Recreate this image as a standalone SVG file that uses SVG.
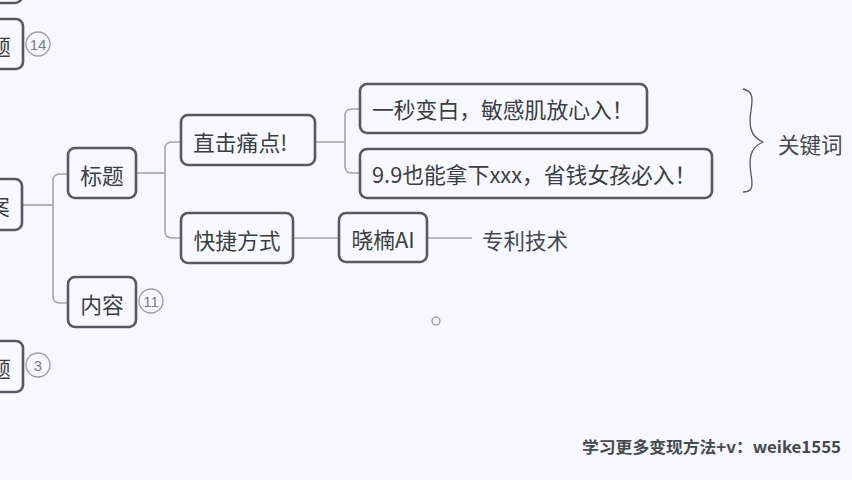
<svg xmlns="http://www.w3.org/2000/svg" width="852" height="480" viewBox="0 0 852 480">
  <style>
    .node rect { fill: #f7f9fe; stroke: #555a60; stroke-width: 2.6; }
    .label { font-family: "Noto Sans CJK SC", "Noto Sans", sans-serif; font-size: 21.8px; fill: #3a3d42; dominant-baseline: central; }
    .plain { font-family: "Noto Sans CJK SC", "Noto Sans", sans-serif; font-size: 21.5px; fill: #45484d; dominant-baseline: central; }
    .badge circle { fill: none; stroke: #9a9da2; stroke-width: 1.3; }
    .badge text { font-family: "Liberation Sans", "Noto Sans", sans-serif; font-size: 15px; fill: #7a7d82; text-anchor: middle; dominant-baseline: central; }
    .conn { fill: none; stroke: #a3a6ab; stroke-width: 1.6; }
  </style>
  <rect x="0" y="0" width="852" height="480" fill="#f6f8fe"/>

  <!-- connectors -->
  <g id="connectors" class="conn">
    <path d="M22,205 H53"/>
    <path d="M68,174 H60 Q53,174 53,181 V296 Q53,303 60,303 H68"/>
    <path d="M136,173 H165"/>
    <path d="M181,142 H172 Q165,142 165,149 V231 Q165,238 172,238 H181"/>
    <path d="M315,142 H345"/>
    <path d="M361,109 H352 Q345,109 345,116 V166 Q345,173 352,173 H361"/>
    <path d="M293,238 H339"/>
    <path d="M427,238 H472"/>
  </g>

  <!-- partly visible nodes on the left edge -->
  <g id="node-top-cut" class="node">
    <rect x="-20" y="-40" width="42" height="43" rx="7"/>
  </g>
  <g id="node-ti-1" class="node">
    <rect x="-20" y="19" width="43" height="50" rx="7"/>
    <text class="label" x="-11" y="45">题</text>
  </g>
  <g id="badge-14" class="badge">
    <circle cx="38" cy="44" r="12"/>
    <text x="38" y="44">14</text>
  </g>
  <g id="node-an" class="node">
    <rect x="-20" y="179" width="42" height="51" rx="7"/>
    <text class="label" x="-12" y="205">案</text>
  </g>
  <g id="node-ti-2" class="node">
    <rect x="-20" y="341" width="43" height="51" rx="7"/>
    <text class="label" x="-11" y="367">题</text>
  </g>
  <g id="badge-3" class="badge">
    <circle cx="38" cy="365" r="12"/>
    <text x="38" y="365">3</text>
  </g>

  <!-- second level -->
  <g id="node-biaoti" class="node">
    <rect x="68" y="148" width="68" height="50" rx="7"/>
    <text class="label" x="102" y="174" text-anchor="middle">标题</text>
  </g>
  <g id="node-neirong" class="node">
    <rect x="68" y="277" width="68" height="50" rx="7"/>
    <text class="label" x="102" y="303" text-anchor="middle">内容</text>
  </g>
  <g id="badge-11" class="badge">
    <circle cx="151" cy="301" r="12"/>
    <text x="151" y="301">11</text>
  </g>

  <!-- third level -->
  <g id="node-zhiji" class="node">
    <rect x="181" y="115" width="134" height="50" rx="7"/>
    <text class="label" x="193" y="141">直击痛点!</text>
  </g>
  <g id="node-kuaijie" class="node">
    <rect x="181" y="213" width="112" height="50" rx="7"/>
    <text class="label" x="237" y="239" text-anchor="middle">快捷方式</text>
  </g>

  <!-- fourth level -->
  <g id="node-yimiao" class="node">
    <rect x="360" y="84" width="287" height="49" rx="7"/>
    <text class="label" x="372" y="108">一秒变白，敏感肌放心入！</text>
  </g>
  <g id="node-jiujiu" class="node">
    <rect x="360" y="149" width="352" height="49" rx="7"/>
    <text class="label" x="372" y="173">9.9也能拿下xxx，省钱女孩必入！</text>
  </g>
  <g id="node-xiaonan" class="node">
    <rect x="339" y="213" width="88" height="49" rx="7"/>
    <text class="label" x="383" y="238" text-anchor="middle">晓楠AI</text>
  </g>
  <g id="node-zhuanli">
    <text class="plain" x="482" y="239">专利技术</text>
  </g>

  <!-- brace with its label -->
  <g id="brace-keywords">
    <path d="M743,89 C753,91 753,98 751,110 C749,124 749,136 763,142 C749,148 749,160 751,174 C753,186 753,192 743,192" fill="none" stroke="#55585d" stroke-width="1.3"/>
    <text class="plain" x="778" y="143">关键词</text>
  </g>

  <!-- pointer mark -->
  <circle cx="436" cy="321" r="4" fill="none" stroke="#8a8d92" stroke-width="1.2"/>

  <!-- footer note -->
  <text x="582" y="446" font-family="Noto Sans CJK SC, DejaVu Sans Mono, monospace" font-size="16" font-weight="bold" fill="#45484d" dominant-baseline="central" textLength="259" lengthAdjust="spacingAndGlyphs">学习更多变现方法+v：weike1555</text>
</svg>
